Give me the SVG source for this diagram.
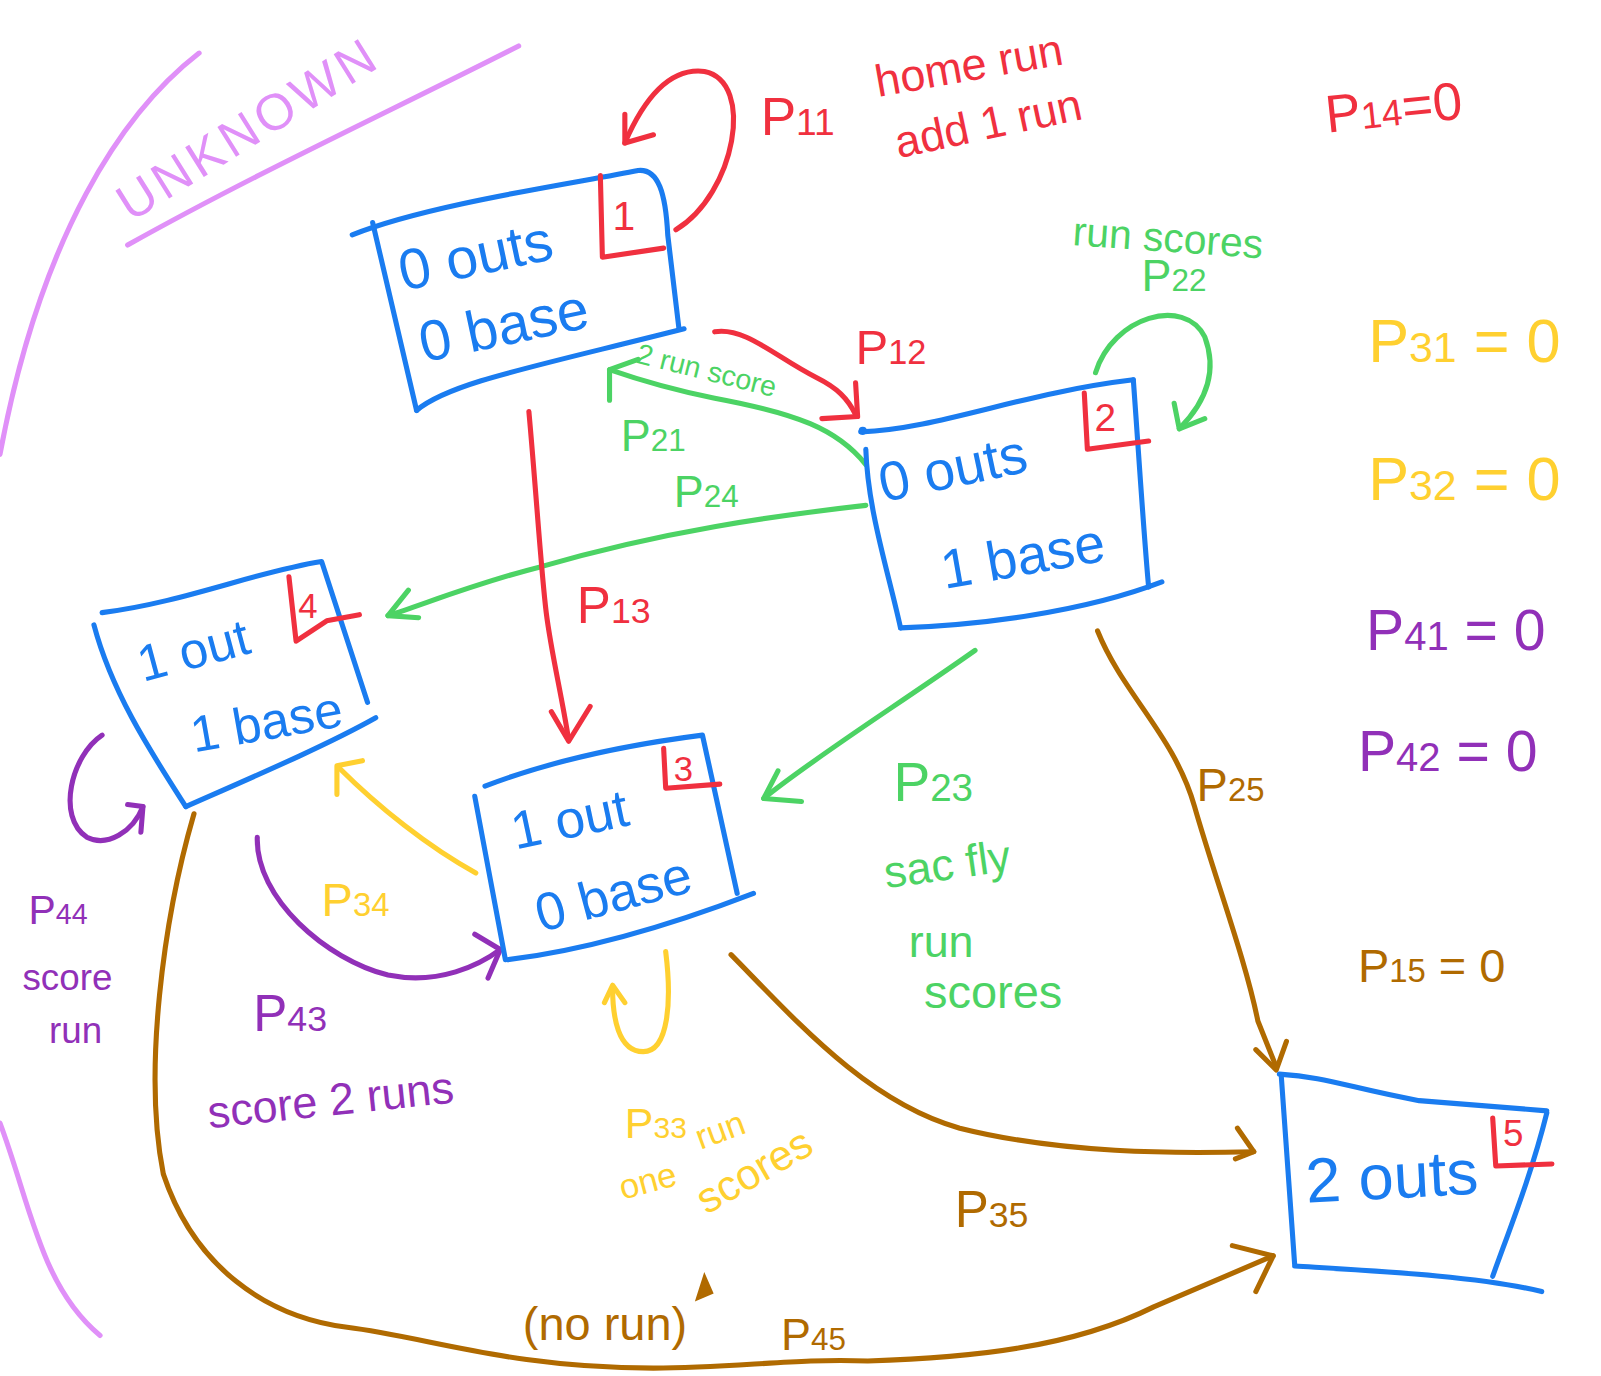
<svg xmlns="http://www.w3.org/2000/svg" width="1601" height="1376" viewBox="0 0 1601 1376">
<style>
.s{fill:none;stroke-width:5;stroke-linecap:round;stroke-linejoin:round}
.b{stroke:#1a7cf0}.r{stroke:#f0303f}.g{stroke:#4cd364}.p{stroke:#9130b8}.y{stroke:#ffd030}.o{stroke:#b06a00}.l{stroke:#e090f8}
text{font-family:"Liberation Sans","DejaVu Sans",sans-serif}
.tb{fill:#1a7cf0}.tr{fill:#f0303f}.tg{fill:#4cd364}.tp{fill:#9130b8}.ty{fill:#ffd030}.to{fill:#b06a00}.tl{fill:#e090f8}
.sub{font-size:70%}
</style>
<rect width="1601" height="1376" fill="#ffffff"/>
<g transform="scale(1.021)">
<g id="unknown">
<path class="s l" d="M195,52 C120,110 40,230 0,445"/>
<path class="s l" d="M0,1100 C30,1180 40,1260 98,1308"/>
<path class="s l" d="M125,240 C250,170 380,110 508,45"/>
<text class="tl" x="128" y="218" font-size="50" transform="rotate(-32 128 218)" letter-spacing="4">UNKNOWN</text>
</g>
<g id="connectors">
<path class="s r" d="M662,225 C720,190 740,80 690,70 C650,65 625,110 612,140"/>
<path class="s r" d="M612,112 L612,140 L640,132"/>
<path class="s r" d="M700,325 C730,320 760,350 800,370 C820,380 830,390 838,406"/>
<path class="s r" d="M838,375 L840,408 L805,410"/>
<path class="s g" d="M848,455 C820,420 780,405 700,390 C650,380 620,370 597,362"/>
<path class="s g" d="M597,392 L597,362 L625,352"/>
<path class="s g" d="M848,495 C760,505 650,520 530,555 C470,570 420,590 380,603"/>
<path class="s g" d="M400,578 L380,603 L410,605"/>
<path class="s g" d="M1073,365 C1090,310 1160,290 1180,330 C1195,370 1175,400 1155,420"/>
<path class="s g" d="M1150,395 L1155,420 L1180,410"/>
<path class="s r" d="M518,403 C525,480 530,560 535,600 C540,640 550,680 557,725"/>
<path class="s r" d="M540,697 L557,726 L578,692"/>
<path class="s g" d="M955,637 C880,690 800,740 748,782"/>
<path class="s g" d="M762,755 L748,782 L785,785"/>
<path class="s y" d="M466,855 C420,830 370,790 332,752"/>
<path class="s y" d="M330,778 L330,750 L355,745"/>
<path class="s p" d="M252,820 C250,880 320,940 380,955 C430,965 470,945 490,930"/>
<path class="s p" d="M465,915 L490,930 L478,958"/>
<path class="s p" d="M100,720 C70,740 55,800 85,820 C105,830 130,815 140,790"/>
<path class="s p" d="M125,788 L140,790 L138,815"/>
<path class="s y" d="M652,932 C658,980 655,1030 630,1030 C605,1030 600,995 600,968"/>
<path class="s y" d="M592,982 L600,965 L612,982"/>
<path class="s o" d="M1075,618 C1100,680 1150,720 1170,790 C1190,860 1220,940 1232,1000 L1250,1045"/>
<path class="s o" d="M1230,1028 L1250,1048 L1260,1020"/>
<path class="s o" d="M716,935 C780,1000 850,1080 940,1105 C1040,1130 1150,1130 1228,1128"/>
<path class="s o" d="M1212,1105 L1228,1128 L1210,1135"/>
<path class="s o" d="M190,797 C160,900 140,1050 160,1150 C190,1240 260,1290 340,1300 C420,1310 500,1340 640,1340 C720,1340 780,1330 850,1333 C950,1330 1050,1320 1130,1280 L1247,1230"/>
<path class="s o" d="M1207,1220 L1247,1230 L1230,1265"/>
<path d="M683,1272 L690,1250 L697,1266 Z" fill="#b06a00" stroke="#b06a00" stroke-width="3"/>
</g>
<g id="node1">
<path class="s b" d="M345,230 C420,200 560,180 625,167 C645,165 652,190 654,230 L665,322"/>
<path class="s b" d="M365,218 L408,402"/>
<path class="s b" d="M408,402 C440,375 520,360 670,322"/>
<path class="s r" d="M588,172 L590,252 L650,243"/>
<text class="tr" x="600" y="225" font-size="40">1</text>
<text class="tb" x="395" y="285" font-size="56" transform="rotate(-12 395 285)">0 outs</text>
<text class="tb" x="415" y="355" font-size="56" transform="rotate(-12 415 355)">0 base</text>
</g>
<g id="node2">
<path class="s b" d="M843,423 C920,420 1000,385 1110,372"/>
<path class="s b" d="M1110,372 C1115,440 1120,520 1125,575"/>
<path class="s b" d="M848,440 C850,500 870,560 882,615"/>
<path class="s b" d="M882,615 C960,612 1060,600 1138,570"/>
<circle cx="845" cy="422" r="4" fill="#1a7cf0"/>
<path class="s r" d="M1062,385 L1065,440 L1125,432"/>
<text class="tr" x="1072" y="422" font-size="38">2</text>
<text class="tb" x="865" y="492" font-size="54" transform="rotate(-12 865 492)">0 outs</text>
<text class="tb" x="925" y="577" font-size="54" transform="rotate(-10 925 577)">1 base</text>
</g>
<g id="node4">
<path class="s b" d="M100,600 C180,590 250,560 315,550 L360,688"/>
<path class="s b" d="M92,612 C110,680 150,740 182,790"/>
<path class="s b" d="M182,790 C250,760 320,730 368,703"/>
<path class="s r" d="M283,565 L290,628 L320,608 L352,602"/>
<text class="tr" x="292" y="605" font-size="34">4</text>
<text class="tb" x="140" y="668" font-size="50" transform="rotate(-15 140 668)">1 out</text>
<text class="tb" x="190" y="737" font-size="50" transform="rotate(-10 190 737)">1 base</text>
</g>
<g id="node3">
<path class="s b" d="M475,770 C540,745 610,730 688,720 L722,875"/>
<path class="s b" d="M465,780 L495,940"/>
<path class="s b" d="M497,940 C580,930 660,905 738,875"/>
<path class="s r" d="M650,733 L652,772 L705,768"/>
<text class="tr" x="660" y="765" font-size="34">3</text>
<text class="tb" x="505" y="832" font-size="52" transform="rotate(-12 505 832)">1 out</text>
<text class="tb" x="530" y="913" font-size="52" transform="rotate(-15 530 913)">0 base</text>
</g>
<g id="node5">
<path class="s b" d="M1253,1052 C1300,1055 1320,1065 1390,1078 L1515,1088"/>
<path class="s b" d="M1515,1090 C1500,1150 1480,1200 1462,1250"/>
<path class="s b" d="M1255,1055 L1268,1238"/>
<path class="s b" d="M1268,1240 C1350,1245 1450,1250 1510,1265"/>
<path class="s r" d="M1462,1095 L1465,1142 L1520,1140"/>
<text class="tr" x="1472" y="1122" font-size="36">5</text>
<text class="tb" x="1280" y="1178" font-size="62" transform="rotate(-3 1280 1178)">2 outs</text>
</g>
<g id="labels">
<text class="tr" x="745" y="132" font-size="52">P<tspan class="sub">11</tspan></text>
<text class="tr" x="860" y="95" font-size="44" transform="rotate(-10 860 95)">home run</text>
<text class="tr" x="880" y="155" font-size="44" transform="rotate(-12 880 155)">add 1 run</text>
<text class="tr" x="1300" y="130" font-size="52" transform="rotate(-6 1300 130)">P<tspan class="sub">14</tspan>=0</text>
<text class="tr" x="838" y="357" font-size="48">P<tspan class="sub">12</tspan></text>
<text class="tg" x="622" y="355" font-size="28" transform="rotate(14 622 355)">2 run score</text>
<text class="tg" x="608" y="442" font-size="44">P<tspan class="sub">21</tspan></text>
<text class="tg" x="660" y="497" font-size="44">P<tspan class="sub">24</tspan></text>
<text class="tg" x="1050" y="240" font-size="40" transform="rotate(4 1050 240)">run scores</text>
<text class="tg" x="1118" y="285" font-size="44">P<tspan class="sub">22</tspan></text>
<text class="tr" x="565" y="610" font-size="50">P<tspan class="sub">13</tspan></text>
<text class="tg" x="875" y="785" font-size="54">P<tspan class="sub">23</tspan></text>
<text class="tg" x="868" y="870" font-size="44" transform="rotate(-8 868 870)">sac fly</text>
<text class="tg" x="890" y="937" font-size="44">run</text>
<text class="tg" x="905" y="987" font-size="46">scores</text>
<text class="ty" x="315" y="897" font-size="46">P<tspan class="sub">34</tspan></text>
<text class="tp" x="248" y="1010" font-size="50">P<tspan class="sub">43</tspan></text>
<text class="tp" x="205" y="1105" font-size="44" transform="rotate(-6 205 1105)">score 2 runs</text>
<text class="tp" x="28" y="905" font-size="40">P<tspan class="sub">44</tspan></text>
<text class="tp" x="22" y="970" font-size="36">score</text>
<text class="tp" x="48" y="1022" font-size="36">run</text>
<text class="ty" x="612" y="1115" font-size="42">P<tspan class="sub">33</tspan></text>
<text class="ty" x="686" y="1126" font-size="34" transform="rotate(-20 686 1126)">run</text>
<text class="ty" x="610" y="1175" font-size="34" transform="rotate(-15 610 1175)">one</text>
<text class="ty" x="692" y="1190" font-size="42" transform="rotate(-30 692 1190)">scores</text>
<text class="to" x="1172" y="785" font-size="46">P<tspan class="sub">25</tspan></text>
<text class="to" x="935" y="1202" font-size="50">P<tspan class="sub">35</tspan></text>
<text class="to" x="512" y="1312" font-size="46">(no run)</text>
<text class="to" x="765" y="1322" font-size="44">P<tspan class="sub">45</tspan></text>
<text class="ty" x="1340" y="355" font-size="60">P<tspan class="sub">31</tspan> = 0</text>
<text class="ty" x="1340" y="490" font-size="60">P<tspan class="sub">32</tspan> = 0</text>
<text class="tp" x="1338" y="637" font-size="56">P<tspan class="sub">41</tspan> = 0</text>
<text class="tp" x="1330" y="755" font-size="56">P<tspan class="sub">42</tspan> = 0</text>
<text class="to" x="1330" y="962" font-size="46">P<tspan class="sub">15</tspan> = 0</text>
</g>
</g>
</svg>
